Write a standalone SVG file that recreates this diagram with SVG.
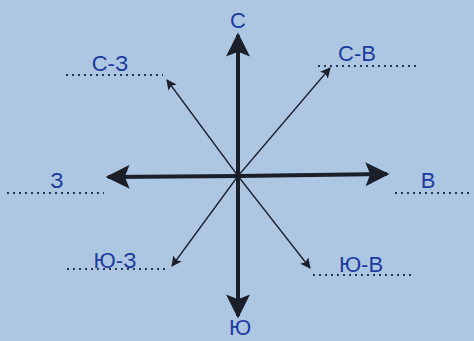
<svg xmlns="http://www.w3.org/2000/svg" width="474" height="341" viewBox="0 0 474 341">
<style>
.lbl{font-family:"Liberation Sans",sans-serif;font-size:22px;fill:#1d3a9e;text-anchor:middle}
.dot{stroke:#2a3550;stroke-width:2;stroke-dasharray:2 4}
.main{stroke:#1a1f2a;stroke-width:4}
.thin{stroke:#1a1f2a;stroke-width:1.3}
</style>
<defs>
<marker id="big" viewBox="0 0 10 10" refX="9" refY="5" markerWidth="6.5" markerHeight="6" orient="auto" markerUnits="strokeWidth"><path d="M0,0 L10,5 L0,10 L2,5 z" fill="#1a1f2a"/></marker>
<marker id="small" viewBox="0 0 10 10" refX="9" refY="5" markerWidth="9" markerHeight="8" orient="auto" markerUnits="strokeWidth"><path d="M0,0 L10,5 L0,10 L2,5 z" fill="#1a1f2a"/></marker>
</defs>
<rect width="474" height="341" fill="#adc7e3"/>
<g id="connectors">
<line class="main" x1="238" y1="176" x2="238" y2="35" marker-end="url(#big)"/>
<line class="main" x1="238" y1="176" x2="238" y2="316" marker-end="url(#big)"/>
<line class="main" x1="238" y1="176" x2="108" y2="177" marker-end="url(#big)"/>
<line class="main" x1="238" y1="176" x2="387" y2="174" marker-end="url(#big)"/>
<line class="thin" x1="238" y1="176" x2="330" y2="68" marker-end="url(#small)"/>
<line class="thin" x1="238" y1="176" x2="167" y2="80" marker-end="url(#small)"/>
<line class="thin" x1="238" y1="176" x2="172" y2="266" marker-end="url(#small)"/>
<line class="thin" x1="238" y1="176" x2="310" y2="268" marker-end="url(#small)"/>
</g>
<g id="n">
<text class="lbl" x="238" y="28">С</text>
</g>
<g id="ne">
<line class="dot" x1="318" y1="66" x2="417" y2="66"/>
<text class="lbl" x="357" y="61">С-В</text>
</g>
<g id="e">
<line class="dot" x1="395" y1="193" x2="472" y2="193"/>
<text class="lbl" x="428" y="188">В</text>
</g>
<g id="se">
<line class="dot" x1="313" y1="275" x2="415" y2="275"/>
<text class="lbl" x="361" y="272">Ю-В</text>
</g>
<g id="s">
<text class="lbl" x="240" y="335">Ю</text>
</g>
<g id="sw">
<line class="dot" x1="67" y1="269" x2="166" y2="269"/>
<text class="lbl" x="115" y="268">Ю-З</text>
</g>
<g id="w">
<line class="dot" x1="7" y1="193" x2="104" y2="193"/>
<text class="lbl" x="57" y="188">З</text>
</g>
<g id="nw">
<line class="dot" x1="66" y1="75" x2="163" y2="75"/>
<text class="lbl" x="110" y="71">С-З</text>
</g>
</svg>
